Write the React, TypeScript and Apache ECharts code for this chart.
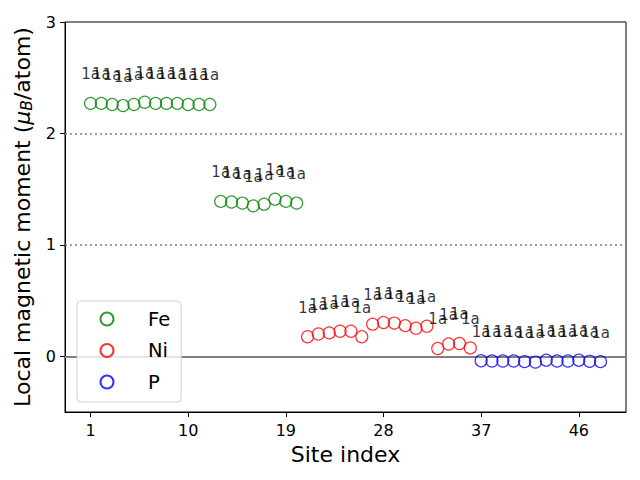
import React, { useEffect, useRef } from "react";
import * as echarts from "echarts";

const feSites = [1, 2, 3, 4, 5, 6, 7, 8, 9, 10, 11, 12, 13, 14, 15, 16, 17, 18, 19, 20];
const feMoments = [2.27, 2.27, 2.26, 2.25, 2.26, 2.28, 2.27, 2.27, 2.27, 2.26, 2.26, 2.26,
  1.39, 1.385, 1.375, 1.35, 1.365, 1.41, 1.39, 1.375];
const niSites = [21, 22, 23, 24, 25, 26, 27, 28, 29, 30, 31, 32, 33, 34, 35, 36];
const niMoments = [0.175, 0.2, 0.21, 0.225, 0.225, 0.175, 0.288, 0.303, 0.298, 0.275, 0.252, 0.27,
  0.07, 0.11, 0.115, 0.075];
const pSites = [37, 38, 39, 40, 41, 42, 43, 44, 45, 46, 47, 48];
const pMoments = [-0.04, -0.042, -0.042, -0.042, -0.048, -0.052, -0.035, -0.042, -0.042, -0.035, -0.045, -0.048];
const siteLabel = "1a";
const xTicks = [1, 10, 19, 28, 37, 46];
const yTicks = [0, 1, 2, 3];
const refLinesDotted = [1, 2];
const refLineZero = 0;

const pairs = (xs: number[], ys: number[]) => xs.map((x, i) => [x, ys[i]]);

export default function App() {
  const ref = useRef<HTMLDivElement>(null);
  useEffect(() => {
    if (!ref.current) return;
    const chart = echarts.init(ref.current, null, { renderer: "svg" });
    const font = "DejaVu Sans";
    const mkSeries = (name: string, color: string, xs: number[], ys: number[], extra: any = {}) => ({
      name,
      type: "scatter",
      data: pairs(xs, ys),
      symbol: "circle",
      symbolSize: 12,
      itemStyle: { color: "none", borderColor: color, borderWidth: 1.2 },
      label: {
        show: true,
        position: "top",
        distance: 13,
        formatter: () => siteLabel,
        color: "#000",
        fontFamily: font,
        fontSize: 15,
      },
      labelLayout: { hideOverlap: false },
      z: 3,
      ...extra,
    });
    chart.setOption({
      animation: false,
      backgroundColor: "#fff",
      textStyle: { fontFamily: font },
      grid: { left: 65, right: 14, top: 22, bottom: 68, show: true, borderColor: "#000", borderWidth: 1, backgroundColor: "transparent" },
      legend: {
        orient: "vertical",
        left: 77,
        top: 301,
        itemWidth: 72,
        itemHeight: 13,
        itemGap: 11.5,
        padding: [8, 11, 10, 21],
        backgroundColor: "rgba(255,255,255,0.8)",
        borderColor: "#d0d0d0",
        borderWidth: 1,
        borderRadius: 4,
        textStyle: { fontFamily: font, fontSize: 19.5, lineHeight: 20, color: "#000" },
        data: ["Fe", "Ni", "P"],
      },
      xAxis: {
        type: "value",
        min: -1.35,
        max: 50.35,
        name: "Site index",
        nameLocation: "middle",
        nameGap: 31,
        nameTextStyle: { fontFamily: font, fontSize: 22, color: "#000" },
        axisLine: { show: true, onZero: false, lineStyle: { color: "#000", width: 1 } },
        axisTick: { show: true, length: 5, customValues: xTicks, lineStyle: { color: "#000" } },
        axisLabel: { customValues: xTicks, margin: 10, fontFamily: font, fontSize: 16, color: "#000" },
        splitLine: { show: false },
      },
      yAxis: {
        type: "value",
        min: -0.5,
        max: 3,
        name: "{n|Local magnetic moment (}{m|μ}{s|B}{n|/atom)}",
        nameLocation: "middle",
        nameGap: 28,
        nameTextStyle: {
          color: "#000",
          rich: {
            n: { fontFamily: font, fontSize: 22, color: "#000" },
            m: { fontFamily: font, fontSize: 22, fontStyle: "italic", color: "#000" },
            s: { fontFamily: font, fontSize: 15.5, fontStyle: "italic", color: "#000", verticalAlign: "bottom", padding: [8, 0, 0, 0] },
          },
        },
        axisLine: { show: true, onZero: false, lineStyle: { color: "#000", width: 1 } },
        axisTick: { show: true, length: 5, customValues: yTicks, lineStyle: { color: "#000" } },
        axisLabel: { customValues: yTicks, margin: 9, fontFamily: font, fontSize: 16, color: "#000" },
        splitLine: { show: false },
      },
      series: [
        mkSeries("Fe", "#008000", feSites, feMoments, {
          markLine: {
            silent: true,
            symbol: "none",
            label: { show: false },
            z: 1,
            data: [
              ...refLinesDotted.map((v) => ({ yAxis: v, lineStyle: { color: "#808080", width: 1.5, type: [2, 3] } })),
              { yAxis: refLineZero, lineStyle: { color: "#808080", width: 1.8, type: "solid" } },
            ],
          },
        }),
        mkSeries("Ni", "#ff0000", niSites, niMoments),
        mkSeries("P", "#0000ff", pSites, pMoments),
      ],
    });
    return () => chart.dispose();
  }, []);
  return <div ref={ref} style={{ width: 640, height: 480, position: "absolute", left: 0, top: 0 }} />;
}
